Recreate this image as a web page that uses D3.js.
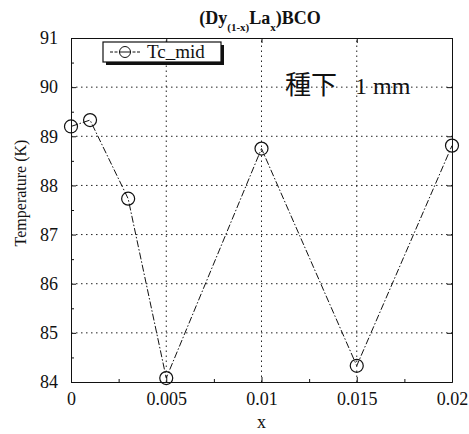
<!DOCTYPE html>
<html>
<head>
<meta charset="utf-8">
<script src="https://cdn.jsdelivr.net/npm/d3@7"></script>
<style>
  body { margin: 0; background: #fff; }
  svg text { font-family: "Liberation Serif", "DejaVu Serif", serif; }
</style>
</head>
<body>
<svg id="chart" width="469" height="434"></svg>
<script>
// data
const xValues = [0, 0.001, 0.003, 0.005, 0.01, 0.015, 0.02];
const tcMid = [89.2, 89.33, 87.73, 84.08, 88.75, 84.33, 88.81];
const xTicks = [0, 0.005, 0.01, 0.015, 0.02];
const xTickLabels = ['0', '0.005', '0.01', '0.015', '0.02'];
const yTicks = [84, 85, 86, 87, 88, 89, 90, 91];
const seriesName = 'Tc_mid';
const note = ['種下', '1 mm'];

const width = 469, height = 434;
const margin = { top: 38, right: 17, bottom: 52, left: 71 };
const serif = '"Liberation Serif", serif';

const svg = d3.select('#chart');

const x = d3.scaleLinear().domain([0, 0.02]).range([margin.left, width - margin.right]);
const y = d3.scaleLinear().domain([84, 91]).range([height - margin.bottom, margin.top]);

// grid
const grid = svg.append('g').attr('stroke', '#222').attr('stroke-width', 1)
  .attr('stroke-dasharray', '1.5,3.5');
grid.selectAll('.gy').data(yTicks.slice(1, -1)).enter().append('line')
  .attr('x1', x(0)).attr('x2', x(0.02))
  .attr('y1', d => y(d)).attr('y2', d => y(d));
grid.selectAll('.gx').data(xTicks.slice(1, -1)).enter().append('line')
  .attr('y1', y(84)).attr('y2', y(91))
  .attr('x1', d => x(d)).attr('x2', d => x(d));

// axes with inward ticks (all four sides)
const fmt = d => xTickLabels[xTicks.indexOf(d)];
const axBottom = svg.append('g').attr('transform', `translate(0,${y(84)})`)
  .call(d3.axisBottom(x).tickValues(xTicks).tickFormat(fmt).tickSizeInner(-5).tickSizeOuter(0).tickPadding(10));
const axBottomMinor = svg.append('g').attr('transform', `translate(0,${y(84)})`)
  .call(d3.axisBottom(x).tickValues(d3.range(0.0025, 0.02, 0.005)).tickFormat('').tickSizeInner(-3).tickSizeOuter(0));
const axTop = svg.append('g').attr('transform', `translate(0,${y(91)})`)
  .call(d3.axisTop(x).tickValues(xTicks).tickFormat('').tickSizeInner(-5).tickSizeOuter(0));
const axLeft = svg.append('g').attr('transform', `translate(${x(0)},0)`)
  .call(d3.axisLeft(y).tickValues(yTicks).tickFormat(d3.format('d')).tickSizeInner(-5).tickSizeOuter(0).tickPadding(13));
const axLeftMinor = svg.append('g').attr('transform', `translate(${x(0)},0)`)
  .call(d3.axisLeft(y).tickValues(d3.range(84.5, 91, 1)).tickFormat('').tickSizeInner(-3).tickSizeOuter(0));
const axRight = svg.append('g').attr('transform', `translate(${x(0.02)},0)`)
  .call(d3.axisRight(y).tickValues(yTicks).tickFormat('').tickSizeInner(-5).tickSizeOuter(0));

[axBottom, axBottomMinor, axTop, axLeft, axLeftMinor, axRight].forEach(g => {
  g.attr('font-family', serif);
  g.select('.domain').attr('stroke', '#111');
  g.selectAll('line').attr('stroke', '#111');
  g.selectAll('text').attr('font-family', serif).attr('font-size', 18).attr('fill', '#111');
});
axBottom.selectAll('text').attr('dy', '0.71em');

// data line and markers
const line = d3.line().x((d, i) => x(xValues[i])).y(d => y(d));
svg.append('path').datum(tcMid)
  .attr('d', line).attr('fill', 'none').attr('stroke', '#111').attr('stroke-width', 1)
  .attr('stroke-dasharray', '7,2,1.5,2');
svg.selectAll('.pt').data(tcMid).enter().append('circle')
  .attr('cx', (d, i) => x(xValues[i])).attr('cy', d => y(d)).attr('r', 6.5)
  .attr('fill', 'none').attr('stroke', '#111').attr('stroke-width', 1.2);

// legend with drop shadow
const lg = svg.append('g').attr('transform', 'translate(103,42)');
lg.append('rect').attr('x', 3).attr('y', 3).attr('width', 118).attr('height', 20).attr('fill', '#111');
lg.append('rect').attr('width', 118).attr('height', 20).attr('fill', '#fff').attr('stroke', '#111').attr('stroke-width', 1.2);
lg.append('line').attr('x1', 7).attr('x2', 37).attr('y1', 10).attr('y2', 10)
  .attr('stroke', '#111').attr('stroke-dasharray', '3,1.5');
lg.append('circle').attr('cx', 22).attr('cy', 10).attr('r', 5.5).attr('fill', '#fff').attr('stroke', '#111');
lg.append('line').attr('x1', 16.5).attr('x2', 27.5).attr('y1', 10).attr('y2', 10).attr('stroke', '#111');
lg.append('text').attr('x', 44).attr('y', 16).attr('font-family', serif).attr('font-size', 19)
  .attr('fill', '#111').text(seriesName);

// annotation
const an = svg.append('text').attr('x', 285).attr('y', 94).attr('fill', '#111');
an.append('tspan').style('font-family', '"Noto Sans CJK JP", sans-serif').attr('font-size', 26).text(note[0]);
an.append('tspan').attr('dx', 18).style('font-family', serif).attr('font-size', 24).text(note[1]);

// title
const t = svg.append('text').attr('x', 260).attr('y', 24).attr('font-family', serif)
  .attr('text-anchor', 'middle').attr('font-weight', 'bold').attr('font-size', 18).attr('fill', '#111');
t.append('tspan').text('(Dy');
t.append('tspan').attr('font-size', 11).attr('dy', 7).text('(1-x)');
t.append('tspan').attr('dy', -7).text('La');
t.append('tspan').attr('font-size', 11).attr('dy', 7).text('x');
t.append('tspan').attr('dy', -7).text(')BCO');

// axis titles
svg.append('text').attr('x', x(0.01)).attr('y', 428).attr('text-anchor', 'middle')
  .attr('font-family', serif).attr('font-size', 18).attr('fill', '#111').text('x');
svg.append('text').attr('transform', 'translate(26,193) rotate(-90)').attr('font-family', serif)
  .attr('text-anchor', 'middle').attr('font-size', 16).attr('fill', '#111').text('Temperature (K)');
</script>
</body>
</html>
